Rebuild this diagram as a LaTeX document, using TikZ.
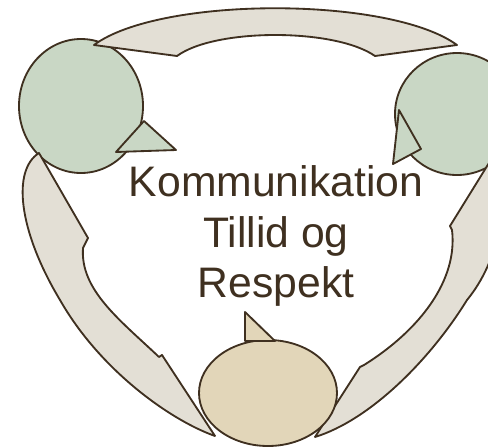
\documentclass[tikz,border=0pt]{standalone}
\usepackage{fontspec}
\setmainfont{Liberation Sans}
\usepackage{tikz}
\usetikzlibrary{calc}
\definecolor{kant}{RGB}{63,48,32}
\definecolor{groen}{RGB}{201,215,197}
\definecolor{baand}{RGB}{227,223,213}
\definecolor{sand}{RGB}{226,214,185}

\begin{document}
\begin{tikzpicture}[x=0.02cm,y=-0.02cm,line join=round]
   \useasboundingbox (0,0) rectangle (488,447);
   \clip (0,0) rectangle (488,447);
   \path
    (81,106) coordinate (c1)
    (457,114) coordinate (c2)
    (268,393) coordinate (c3)
    ;

     % de to groenne bobler
     \draw[line width=1.05pt,kant,fill=groen] (c1) ellipse [x radius=62, y radius=67];
     \draw[line width=1.05pt,kant,fill=groen] (144,121) -- (176,150) -- (116,152) -- cycle;
     \draw[line width=1.05pt,kant,fill=groen] (c2) ellipse [x radius=62, y radius=61];
     \draw[line width=1.05pt,kant,fill=groen] (399,110) -- (421,149) -- (393,164) -- cycle;

    % buede pile
    \draw[line width=1.05pt,kant,fill=baand] (94,45) -- (177,56)
      .. controls (215,28) and (335,28) .. (375,56) -- (457,45)
      .. controls (390,-4) and (160,-4) .. (94,45) -- cycle;
    \draw[line width=1.05pt,kant,fill=baand] (39,153)
      .. controls (12,170) and (18,230) .. (60,300)
      .. controls (100,370) and (170,420) .. (215,436)
      -- (162,355) -- (159,357)
      .. controls (120,320) and (80,290) .. (83,248) -- (88,238) -- cycle;
    \draw[line width=1.05pt,kant,fill=baand] (497,150)
      .. controls (510,200) and (500,260) .. (467,300)
      .. controls (430,360) and (370,420) .. (315,437)
      -- (360,367) -- (364,365)
      .. controls (420,330) and (458,280) .. (452,230) -- (450,226) -- cycle;

    % bunden
    \draw[line width=1.05pt,kant,fill=sand] (c3) ellipse [x radius=69, y radius=53];
    \draw[line width=1.05pt,kant,fill=sand] (245,312) -- (275,341) -- (245,341) -- cycle;

    % tekst
    \path[kant,font=\fontsize{24.3}{28}\selectfont]
      (276,196) node[anchor=base] (l1) {Kommunikation}
      (276,247) node[anchor=base] (l2) {Tillid og}
      (276,297) node[anchor=base] (l3) {Respekt};

\end{tikzpicture}
\end{document}
